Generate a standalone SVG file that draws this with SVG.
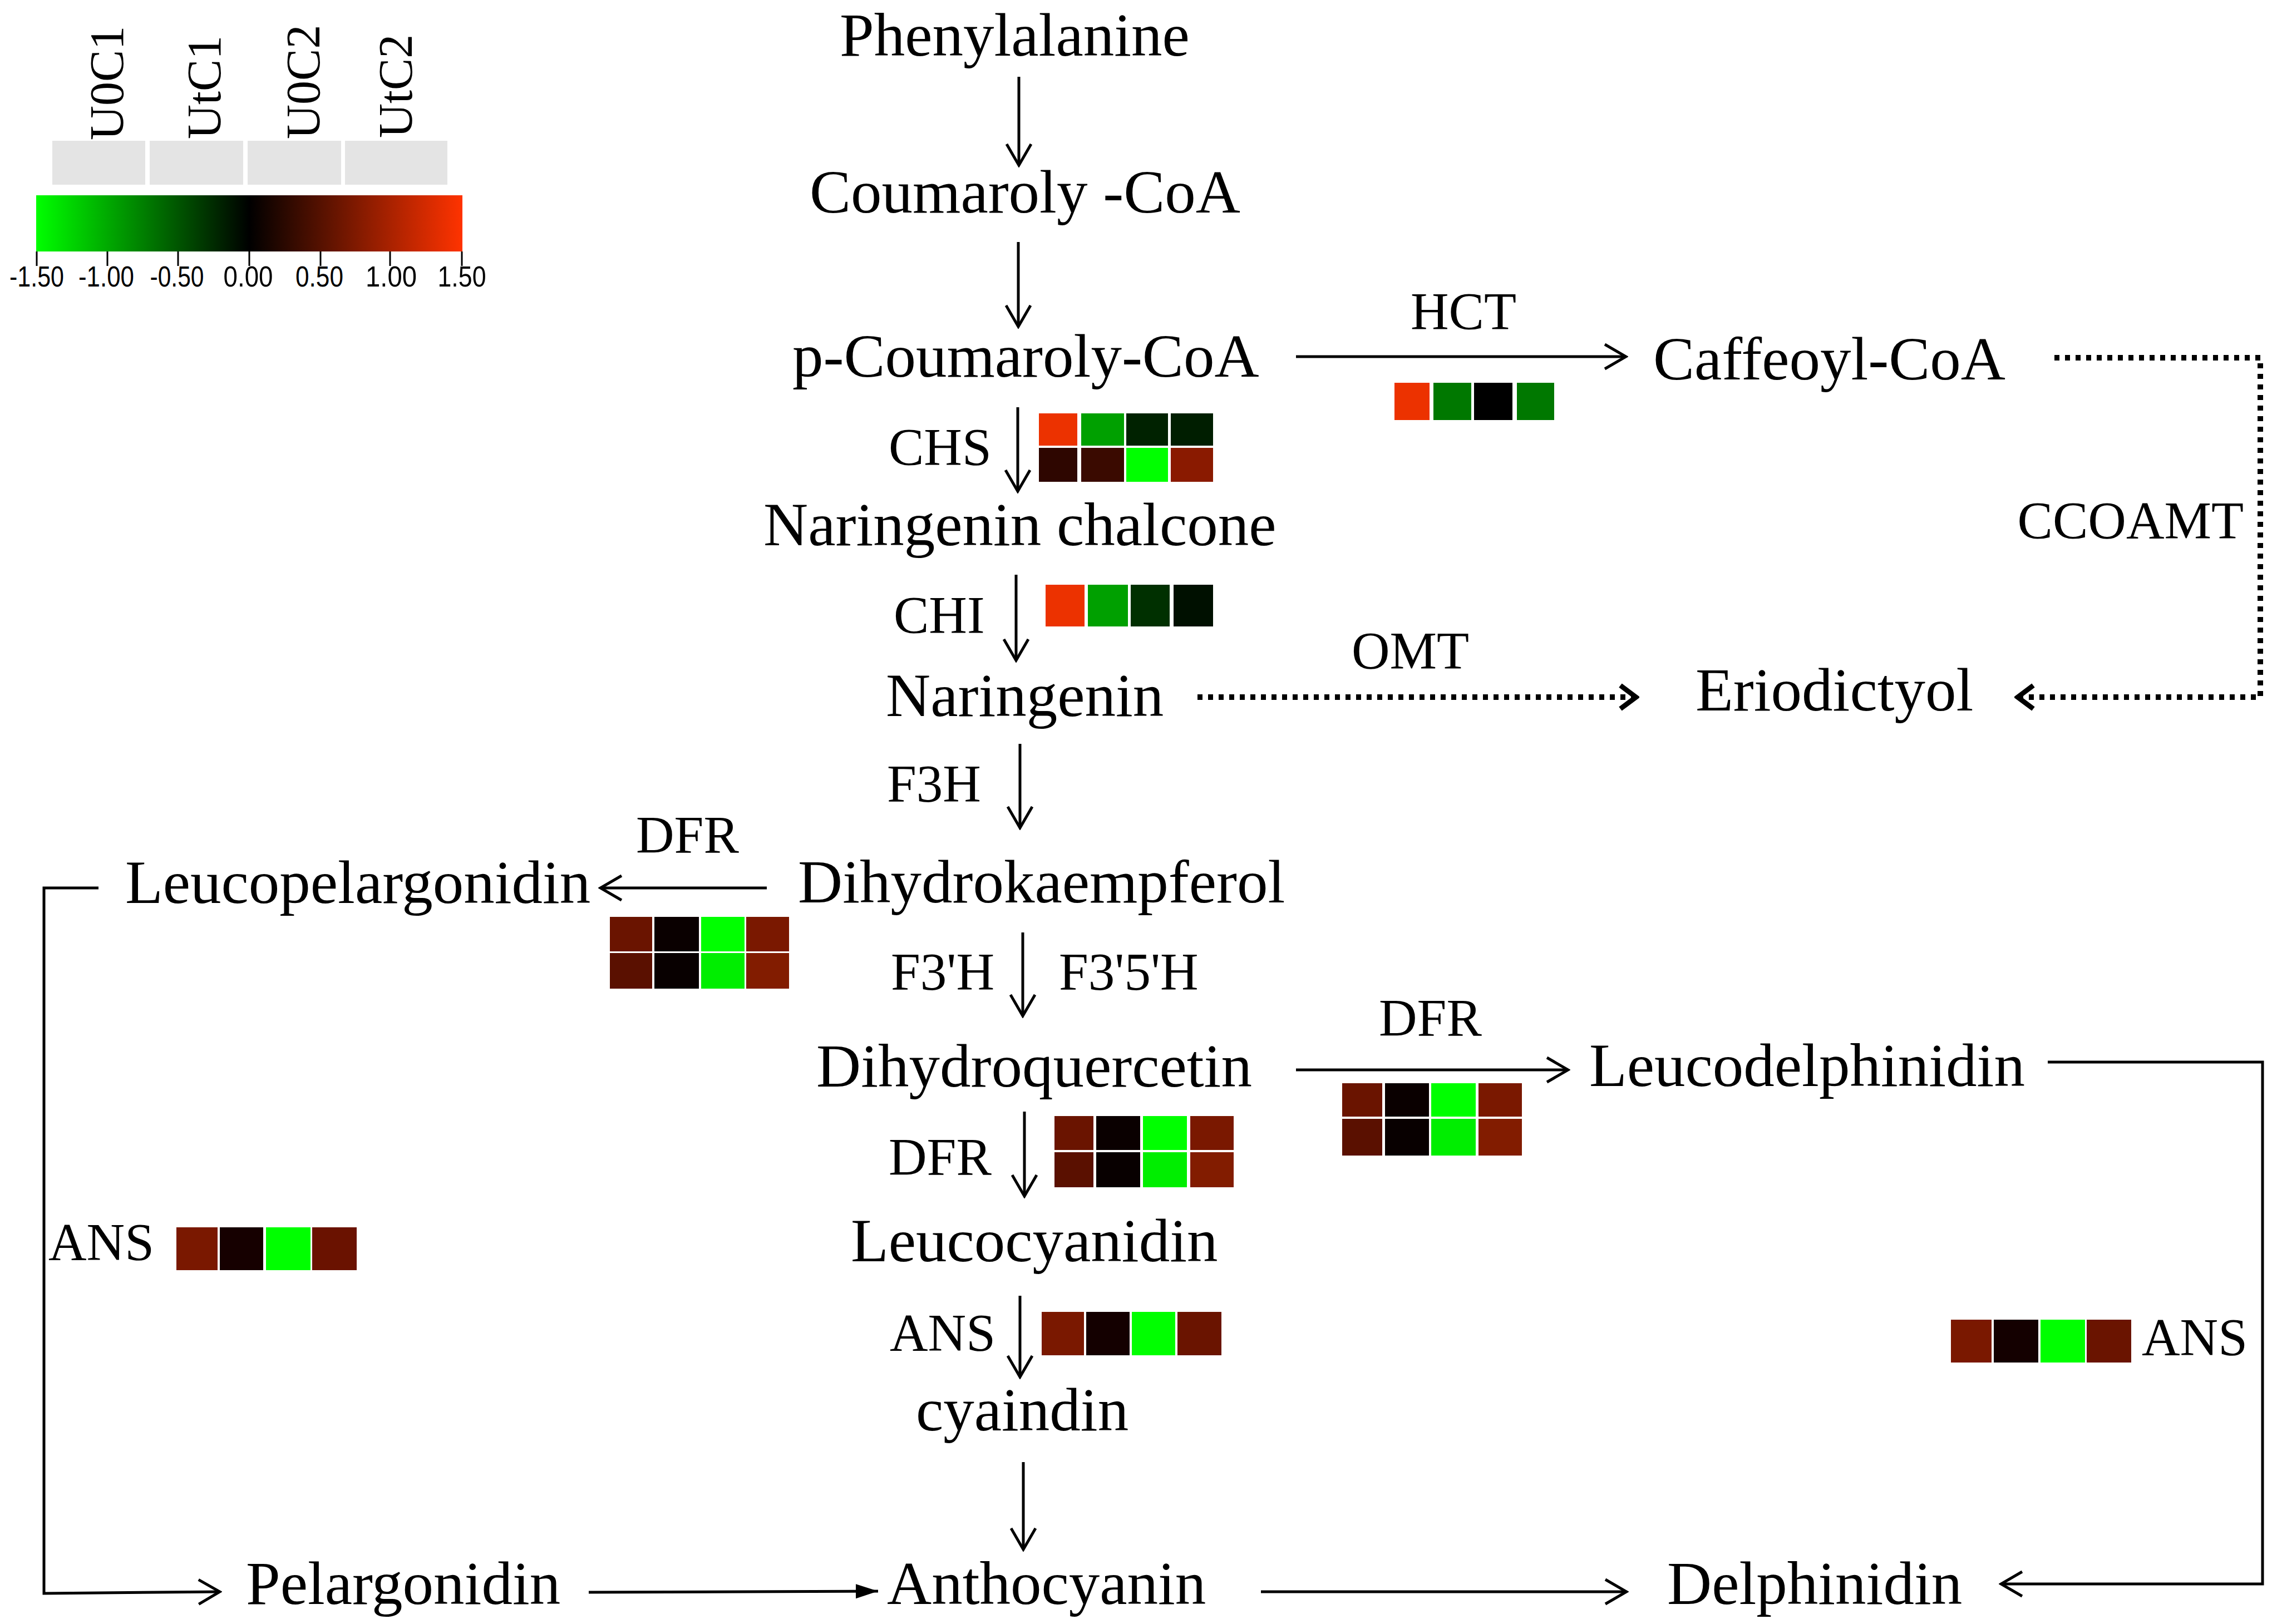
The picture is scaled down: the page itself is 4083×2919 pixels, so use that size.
<svg xmlns="http://www.w3.org/2000/svg" width="4083" height="2919" viewBox="0 0 4083 2919">
<style>
.t{font-family:"Liberation Serif","Times New Roman",serif;font-size:111px;fill:#000}
.e{font-family:"Liberation Serif","Times New Roman",serif;font-size:95px;fill:#000}
.lg{font-family:"Liberation Serif","Times New Roman",serif;font-size:86px;fill:#000}
.tk{font-family:"Liberation Sans Narrow","Liberation Sans",Arial,sans-serif;font-size:52px;fill:#000;text-anchor:middle}
.c{stroke:#000;stroke-width:5;fill:none}
.d{stroke:#000;stroke-width:10;fill:none;stroke-dasharray:9 10}
.g{fill:#e4e4e4}
</style>
<defs>
<linearGradient id="scale" x1="0" y1="0" x2="1" y2="0">
<stop offset="0" stop-color="#00ff00"/>
<stop offset="0.5" stop-color="#000000"/>
<stop offset="1" stop-color="#ff3300"/>
</linearGradient>
<marker id="arr" viewBox="0 0 46 50" refX="42" refY="25" markerWidth="46" markerHeight="50" markerUnits="userSpaceOnUse" orient="auto">
<path d="M4,3 L42,25 L4,47" fill="none" stroke="#000" stroke-width="5"/>
</marker>
<marker id="darr" viewBox="0 0 40 52" refX="34" refY="26" markerWidth="40" markerHeight="52" markerUnits="userSpaceOnUse" orient="auto">
<path d="M6,5 L34,26 L6,47" fill="none" stroke="#000" stroke-width="9"/>
</marker>
<marker id="farr" viewBox="0 0 40 28" refX="40" refY="14" markerWidth="40" markerHeight="28" markerUnits="userSpaceOnUse" orient="auto">
<path d="M0,1 L40,14 L0,27 Z" fill="#000"/>
</marker>
</defs>
<rect width="4083" height="2919" fill="#fff"/>

<g id="legend">
<text class="lg" transform="translate(221,252) rotate(-90)">U0C1</text>
<text class="lg" transform="translate(396,250) rotate(-90)">UtC1</text>
<text class="lg" transform="translate(574,250) rotate(-90)">U0C2</text>
<text class="lg" transform="translate(740,248) rotate(-90)">UtC2</text>
<rect class="g" x="94" y="253" width="167" height="79"/>
<rect class="g" x="269" y="253" width="168" height="79"/>
<rect class="g" x="445" y="253" width="168" height="79"/>
<rect class="g" x="620" y="253" width="184" height="79"/>
<rect x="65" y="351" width="766" height="101" fill="url(#scale)"/>
<g stroke="#000" stroke-width="3">
<line x1="66" y1="452" x2="66" y2="478"/>
<line x1="193" y1="452" x2="193" y2="478"/>
<line x1="320" y1="452" x2="320" y2="478"/>
<line x1="448" y1="452" x2="448" y2="478"/>
<line x1="576" y1="452" x2="576" y2="478"/>
<line x1="701" y1="452" x2="701" y2="478"/>
<line x1="830" y1="452" x2="830" y2="478"/>
</g>
<text class="tk" x="66" y="515" textLength="98" lengthAdjust="spacingAndGlyphs">-1.50</text>
<text class="tk" x="191" y="515" textLength="100" lengthAdjust="spacingAndGlyphs">-1.00</text>
<text class="tk" x="318" y="515" textLength="97" lengthAdjust="spacingAndGlyphs">-0.50</text>
<text class="tk" x="446" y="515" textLength="89" lengthAdjust="spacingAndGlyphs">0.00</text>
<text class="tk" x="574" y="515" textLength="86" lengthAdjust="spacingAndGlyphs">0.50</text>
<text class="tk" x="703" y="515" textLength="92" lengthAdjust="spacingAndGlyphs">1.00</text>
<text class="tk" x="830" y="515" textLength="87" lengthAdjust="spacingAndGlyphs">1.50</text>
</g>

<g id="connectors">
<line class="c" x1="1831" y1="138" x2="1831" y2="297" marker-end="url(#arr)"/>
<line class="c" x1="1830" y1="435" x2="1830" y2="587" marker-end="url(#arr)"/>
<line class="c" x1="2329" y1="641" x2="2922" y2="641" marker-end="url(#arr)"/>
<line class="c" x1="1829" y1="732" x2="1829" y2="883" marker-end="url(#arr)"/>
<line class="c" x1="1826" y1="1033" x2="1826" y2="1187" marker-end="url(#arr)"/>
<line class="d" x1="2152" y1="1253" x2="2940" y2="1253" marker-end="url(#darr)"/>
<path class="d" d="M3692,643 H4062 V1253 H3626" marker-end="url(#darr)"/>
<line class="c" x1="1833" y1="1337" x2="1833" y2="1488" marker-end="url(#arr)"/>
<line class="c" x1="1378" y1="1596" x2="1079" y2="1596" marker-end="url(#arr)"/>
<line class="c" x1="1838" y1="1676" x2="1838" y2="1826" marker-end="url(#arr)"/>
<line class="c" x1="2329" y1="1923" x2="2818" y2="1923" marker-end="url(#arr)"/>
<line class="c" x1="1841" y1="1998" x2="1841" y2="2150" marker-end="url(#arr)"/>
<line class="c" x1="1833" y1="2329" x2="1833" y2="2475" marker-end="url(#arr)"/>
<line class="c" x1="1839" y1="2628" x2="1839" y2="2785" marker-end="url(#arr)"/>
<path class="c" d="M177,1596 H79 V2864 L395,2861" marker-end="url(#arr)"/>
<line class="c" x1="1058" y1="2862" x2="1578" y2="2860" marker-end="url(#farr)"/>
<line class="c" x1="2266" y1="2861" x2="2923" y2="2861" marker-end="url(#arr)"/>
<path class="c" d="M3680,1909 H4066 V2847 H3596" marker-end="url(#arr)"/>
</g>

<g id="enzymes">
<text class="e" x="2630" y="592" text-anchor="middle">HCT</text>
<text class="e" x="1597" y="836">CHS</text>
<text class="e" x="1606" y="1138">CHI</text>
<text class="e" x="2429" y="1202">OMT</text>
<text class="e" x="4032" y="968" text-anchor="end">CCOAMT</text>
<text class="e" x="1594" y="1441">F3H</text>
<text class="e" x="1143" y="1533">DFR</text>
<text class="e" x="1601" y="1779">F3'H</text>
<text class="e" x="1903" y="1779">F3'5'H</text>
<text class="e" x="2478" y="1862">DFR</text>
<text class="e" x="1597" y="2112">DFR</text>
<text class="e" x="87" y="2265">ANS</text>
<text class="e" x="1599" y="2428">ANS</text>
<text class="e" x="3849" y="2436">ANS</text>
</g>

<g id="heatmaps">
<g id="hm-HCT">
<rect x="2506" y="688" width="63" height="67" fill="#ec3200"/>
<rect x="2576" y="688" width="68" height="67" fill="#007800"/>
<rect x="2649" y="688" width="69" height="67" fill="#000000"/>
<rect x="2726" y="688" width="67" height="67" fill="#007800"/>
</g>
<g id="hm-CHS">
<rect x="1867" y="743" width="69" height="58" fill="#ec3200"/>
<rect x="1943" y="743" width="77" height="58" fill="#00a000"/>
<rect x="2024" y="743" width="75" height="58" fill="#002200"/>
<rect x="2104" y="743" width="76" height="58" fill="#001e00"/>
<rect x="1867" y="805" width="69" height="61" fill="#2e0600"/>
<rect x="1943" y="805" width="77" height="61" fill="#3a0a00"/>
<rect x="2024" y="805" width="75" height="61" fill="#00ff00"/>
<rect x="2104" y="805" width="76" height="61" fill="#8a1a00"/>
</g>
<g id="hm-CHI">
<rect x="1879" y="1051" width="70" height="75" fill="#ec3200"/>
<rect x="1955" y="1051" width="72" height="75" fill="#00a000"/>
<rect x="2032" y="1051" width="70" height="75" fill="#003000"/>
<rect x="2109" y="1051" width="71" height="75" fill="#001000"/>
</g>
<g id="hm-DFR-left">
<rect x="1096" y="1648" width="76" height="62" fill="#6a1400"/>
<rect x="1176" y="1648" width="80" height="62" fill="#0a0000"/>
<rect x="1260" y="1648" width="78" height="62" fill="#00ff00"/>
<rect x="1341" y="1648" width="77" height="62" fill="#7a1800"/>
<rect x="1096" y="1713" width="76" height="64" fill="#5a1000"/>
<rect x="1176" y="1713" width="80" height="64" fill="#080000"/>
<rect x="1260" y="1713" width="78" height="64" fill="#00ee00"/>
<rect x="1341" y="1713" width="77" height="64" fill="#821c00"/>
</g>
<g id="hm-DFR-right">
<rect x="2412" y="1947" width="72" height="60" fill="#6a1400"/>
<rect x="2489" y="1947" width="79" height="60" fill="#0a0000"/>
<rect x="2572" y="1947" width="80" height="60" fill="#00ff00"/>
<rect x="2657" y="1947" width="78" height="60" fill="#7a1800"/>
<rect x="2412" y="2011" width="72" height="66" fill="#5a1000"/>
<rect x="2489" y="2011" width="79" height="66" fill="#080000"/>
<rect x="2572" y="2011" width="80" height="66" fill="#00ee00"/>
<rect x="2657" y="2011" width="78" height="66" fill="#821c00"/>
</g>
<g id="hm-DFR-down">
<rect x="1895" y="2006" width="70" height="61" fill="#6a1400"/>
<rect x="1970" y="2006" width="79" height="61" fill="#0a0000"/>
<rect x="2054" y="2006" width="79" height="61" fill="#00ff00"/>
<rect x="2139" y="2006" width="78" height="61" fill="#7a1800"/>
<rect x="1895" y="2071" width="70" height="63" fill="#5a1000"/>
<rect x="1970" y="2071" width="79" height="63" fill="#080000"/>
<rect x="2054" y="2071" width="79" height="63" fill="#00ee00"/>
<rect x="2139" y="2071" width="78" height="63" fill="#821c00"/>
</g>
<g id="hm-ANS-left">
<rect x="317" y="2206" width="74" height="77" fill="#7a1800"/>
<rect x="395" y="2206" width="78" height="77" fill="#160000"/>
<rect x="478" y="2206" width="80" height="77" fill="#00ff00"/>
<rect x="561" y="2206" width="80" height="77" fill="#6a1200"/>
</g>
<g id="hm-ANS-mid">
<rect x="1872" y="2358" width="76" height="78" fill="#7a1800"/>
<rect x="1952" y="2358" width="78" height="78" fill="#140000"/>
<rect x="2034" y="2358" width="78" height="78" fill="#00ff00"/>
<rect x="2116" y="2358" width="79" height="78" fill="#6a1400"/>
</g>
<g id="hm-ANS-right">
<rect x="3506" y="2372" width="73" height="77" fill="#7a1800"/>
<rect x="3583" y="2372" width="80" height="77" fill="#140000"/>
<rect x="3667" y="2372" width="80" height="77" fill="#00ff00"/>
<rect x="3750" y="2372" width="80" height="77" fill="#6a1400"/>
</g>
</g>

<g id="node-phenylalanine"><text class="t" x="1509" y="100">Phenylalanine</text></g>
<g id="node-coumaroly-coa"><text class="t" x="1455" y="382">Coumaroly -CoA</text></g>
<g id="node-p-coumaroly-coa"><text class="t" x="1424" y="677">p-Coumaroly-CoA</text></g>
<g id="node-caffeoyl-coa"><text class="t" x="2971" y="682">Caffeoyl-CoA</text></g>
<g id="node-naringenin-chalcone"><text class="t" x="1372" y="980">Naringenin chalcone</text></g>
<g id="node-naringenin"><text class="t" x="1592" y="1287">Naringenin</text></g>
<g id="node-eriodictyol"><text class="t" x="3047" y="1277">Eriodictyol</text></g>
<g id="node-dihydrokaempferol"><text class="t" x="1434" y="1622">Dihydrokaempferol</text></g>
<g id="node-leucopelargonidin"><text class="t" x="225" y="1623">Leucopelargonidin</text></g>
<g id="node-dihydroquercetin"><text class="t" x="1467" y="1953">Dihydroquercetin</text></g>
<g id="node-leucodelphinidin"><text class="t" x="2856" y="1952">Leucodelphinidin</text></g>
<g id="node-leucocyanidin"><text class="t" x="1529" y="2267">Leucocyanidin</text></g>
<g id="node-cyaindin"><text class="t" x="1646" y="2571">cyaindin</text></g>
<g id="node-pelargonidin"><text class="t" x="442" y="2883">Pelargonidin</text></g>
<g id="node-anthocyanin"><text class="t" x="1594" y="2883">Anthocyanin</text></g>
<g id="node-delphinidin"><text class="t" x="2996" y="2883">Delphinidin</text></g>
</svg>
